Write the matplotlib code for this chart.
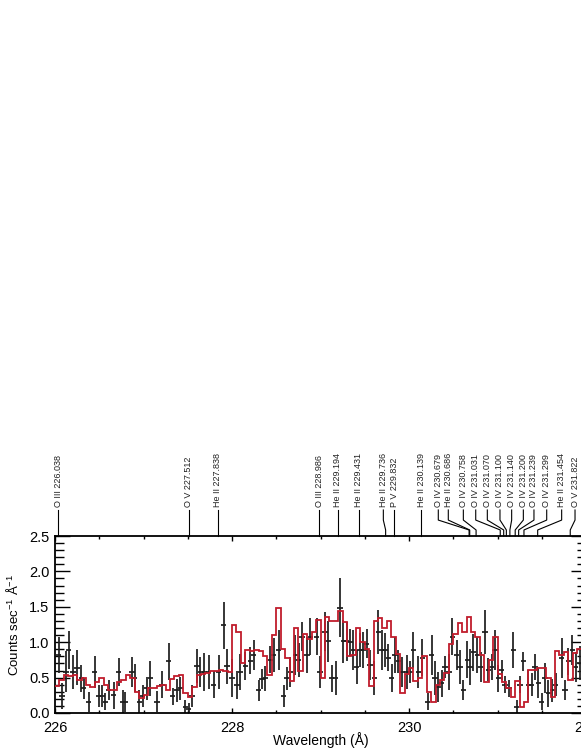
import numpy as np
import matplotlib
matplotlib.use("Agg")
import matplotlib.pyplot as plt
from matplotlib.transforms import blended_transform_factory
from matplotlib.ticker import MultipleLocator, FormatStrFormatter

plt.rcParams['font.family'] = ['Liberation Sans', 'DejaVu Sans']
plt.rcParams['mathtext.default'] = 'regular'

### observed spectrum: bin centre (A), counts/s/A, 1-sigma error
wave = [226.041, 226.079, 226.124, 226.154, 226.203, 226.249, 226.297, 226.324, 226.380, 226.448,
        226.493, 226.531, 226.569, 226.606, 226.663, 226.719, 226.765, 226.795, 226.870, 226.900,
        226.953, 226.991, 227.040, 227.077, 227.153, 227.209, 227.284, 227.330, 227.378, 227.416,
        227.473, 227.510, 227.548, 227.604, 227.642, 227.687, 227.736, 227.793, 227.849, 227.906,
        227.944, 228.000, 228.057, 228.094, 228.151, 228.207, 228.245, 228.301, 228.339, 228.377,
        228.433, 228.471, 228.527, 228.584, 228.621, 228.659, 228.716, 228.753, 228.791, 228.847,
        228.885,
        228.957, 228.994, 229.051, 229.089, 229.126, 229.172, 229.220, 229.258, 229.296, 229.333,
        229.371, 229.409, 229.446, 229.484, 229.522, 229.559, 229.608, 229.654, 229.691, 229.729,
        229.767, 229.804, 229.842, 229.880, 229.925, 229.974, 230.011, 230.049, 230.106, 230.151,
        230.211, 230.256, 230.294, 230.332, 230.369, 230.407, 230.452, 230.490, 230.539, 230.576,
        230.614, 230.659, 230.689, 230.727, 230.772, 230.810, 230.859, 230.897, 230.934, 230.972,
        231.010, 231.047, 231.085, 231.130, 231.179, 231.217, 231.255, 231.292, 231.349, 231.386,
        231.424, 231.462, 231.499, 231.537, 231.575, 231.620, 231.658, 231.725, 231.763, 231.801,
        231.846, 231.884, 231.932]

flux = [0.82, 0.24, 0.58, 0.89, 0.58, 0.64, 0.49, 0.35, 0.16, 0.58,
        0.24, 0.24, 0.16, 0.32, 0.25, 0.58, 0.16, 0.16, 0.58, 0.49,
        0.16, 0.24, 0.35, 0.49, 0.16, 0.40, 0.73, 0.24, 0.32, 0.35,
        0.09, 0.05, 0.24, 0.66, 0.58, 0.58, 0.58, 0.40, 0.58, 1.24,
        0.66, 0.49, 0.40, 0.58, 0.66, 0.74, 0.82, 0.32, 0.48, 0.49,
        0.75, 0.82, 0.89, 0.24, 0.49, 0.58, 0.82, 0.75, 1.08, 0.82,
        1.08,
        1.08, 0.58, 1.15, 1.01, 0.49, 0.49, 1.49, 1.01, 1.01, 1.00,
        0.89, 0.65, 0.89, 0.89, 0.98, 0.68, 0.49, 1.15, 0.89, 0.89,
        0.78, 0.49, 0.82, 0.73, 0.58, 0.58, 0.58, 0.89, 0.58, 0.78,
        0.16, 0.82, 0.49, 0.37, 0.42, 0.65, 0.58, 1.08, 0.82, 0.65,
        0.32, 0.75, 0.65, 0.86, 0.82, 0.65, 1.15, 0.61, 0.65, 0.89,
        0.49, 0.61, 0.40, 0.35, 0.89, 0.09, 0.40, 0.73, 0.40, 0.40,
        0.65, 0.42, 0.16, 0.49, 0.28, 0.32, 0.40, 0.78, 0.32, 0.73,
        0.89, 0.65, 0.70]

flux_err = [0.25, 0.19, 0.29, 0.27, 0.24, 0.25, 0.19, 0.15, 0.14, 0.22,
            0.16, 0.15, 0.12, 0.14, 0.19, 0.20, 0.16, 0.14, 0.21, 0.20,
            0.16, 0.15, 0.16, 0.25, 0.15, 0.19, 0.26, 0.12, 0.16, 0.16,
            0.09, 0.09, 0.16, 0.24, 0.21, 0.27, 0.24, 0.19, 0.24, 0.33,
            0.25, 0.27, 0.20, 0.25, 0.20, 0.19, 0.21, 0.15, 0.14, 0.18,
            0.19, 0.24, 0.28, 0.16, 0.16, 0.21, 0.28, 0.24, 0.20, 0.26,
            0.26,
            0.26, 0.22, 0.28, 0.29, 0.19, 0.24, 0.42, 0.31, 0.28, 0.19,
            0.28, 0.24, 0.24, 0.26, 0.21, 0.21, 0.24, 0.31, 0.28, 0.24,
            0.19, 0.20, 0.26, 0.16, 0.21, 0.24, 0.16, 0.26, 0.22, 0.26,
            0.12, 0.28, 0.24, 0.21, 0.19, 0.16, 0.25, 0.26, 0.21, 0.24,
            0.14, 0.26, 0.26, 0.26, 0.26, 0.21, 0.31, 0.16, 0.19, 0.28,
            0.19, 0.14, 0.12, 0.12, 0.26, 0.09, 0.12, 0.13, 0.21, 0.16,
            0.19, 0.21, 0.12, 0.21, 0.19, 0.16, 0.16, 0.28, 0.14, 0.19,
            0.21, 0.21, 0.24]

### model spectrum, 0.05 A bins starting at 226.0
model = [0.38, 0.47, 0.54, 0.52, 0.54, 0.47, 0.49, 0.40, 0.37, 0.44,
         0.50, 0.40, 0.32, 0.32, 0.44, 0.47, 0.54, 0.49, 0.30, 0.21,
         0.26, 0.36, 0.35, 0.38, 0.40, 0.33, 0.48, 0.52, 0.54, 0.28,
         0.22, 0.37, 0.54, 0.55, 0.57, 0.59, 0.59, 0.61, 0.59, 0.58,
         1.25, 1.15, 0.70, 0.89, 0.88, 0.89, 0.88, 0.80, 0.54, 1.10,
         1.48, 0.90, 0.78, 0.45, 1.20, 0.60, 1.12, 1.05, 1.15, 1.31,
         0.50, 1.35, 1.30, 1.30, 1.44, 1.28, 0.80, 0.82, 1.20, 1.00,
         0.90, 0.38, 1.30, 1.34, 1.20, 1.30, 1.08, 0.84, 0.28, 0.55,
         0.64, 0.45, 0.50, 0.80, 0.30, 0.16, 0.40, 0.46, 0.56, 0.98,
         1.12, 1.27, 1.15, 1.36, 1.15, 1.08, 0.82, 0.44, 0.75, 1.08,
         0.55, 0.44, 0.35, 0.23, 0.45, 0.09, 0.16, 0.61, 0.61, 0.63,
         0.63, 0.50, 0.23, 0.87, 0.82, 0.86, 0.47, 0.85, 0.91, 0.91]
model_edges = 226.0 + 0.05 * np.arange(len(model) + 1)

### line identifications
line_wave = [226.038, 227.512, 227.838, 228.986, 229.194, 229.431, 229.736, 229.832, 230.139,
             230.679, 230.686, 230.758, 231.031, 231.070, 231.100, 231.140, 231.200, 231.239,
             231.299, 231.454, 231.822]
line_ion = ["O III", "O V", "He II", "O III", "He II", "He II", "He II", "P V", "He II",
            "O IV", "He II", "O IV", "O IV", "O IV", "O IV", "O IV", "O IV", "O IV",
            "O IV", "He II", "O V"]
# where the label sits (spread out where lines are crowded)
label_pos = [226.038, 227.512, 227.838, 228.986, 229.194, 229.431, 229.710, 229.832, 230.139,
             230.331, 230.444, 230.614, 230.754, 230.885, 231.028, 231.160, 231.292, 231.412,
             231.556, 231.725, 231.876]

#######################################
###     Plot
#######################################
fig = plt.figure(figsize=(5.81, 7.52), dpi=100)
ax = fig.add_axes([55 / 581, 39 / 752, 531 / 581, 177 / 752])

ax.stairs(model, model_edges, baseline=None, color='#c01c2c', lw=1.3, zorder=3)
ax.errorbar(wave, flux, yerr=flux_err, xerr=0.03, fmt='none', ecolor='#1e1e1e',
            elinewidth=1.25, capsize=0, zorder=2)

ax.set_xlim(226, 232)
ax.set_ylim(0, 2.5)
ax.xaxis.set_major_locator(MultipleLocator(2))
ax.xaxis.set_minor_locator(MultipleLocator(0.5))
ax.yaxis.set_major_locator(MultipleLocator(0.5))
ax.yaxis.set_minor_locator(MultipleLocator(0.1))
ax.yaxis.set_major_formatter(FormatStrFormatter('%.1f'))
ax.tick_params(axis='both', which='both', direction='in', top=True, right=True,
               labelsize=10.5, width=1.0)
ax.tick_params(axis='y', which='major', length=11, pad=4)
ax.tick_params(axis='y', which='minor', length=6.5)
ax.tick_params(axis='x', which='major', length=3.5, pad=6)
ax.tick_params(axis='x', which='minor', length=2)
for sp in ax.spines.values():
    sp.set_linewidth(1.3)

ax.set_xlabel('Wavelength (Å)', fontsize=10)
ax.xaxis.set_label_coords(0.5, -0.11)
ax.set_ylabel('Counts sec$^{-1}$ Å$^{-1}$', fontsize=9.5)
ax.yaxis.set_label_coords(-0.064, 0.5)

trans = blended_transform_factory(ax.transData, ax.transAxes)
for lw_, ion, lp in zip(line_wave, line_ion, label_pos):
    ax.plot([lp, lp, lw_, lw_], [1.147, 1.09, 1.034, 1.0], transform=trans,
            color='black', lw=0.8, clip_on=False)
    ax.text(lp, 1.165, f"{ion} {lw_:.3f}", rotation=90, ha='center', va='bottom',
            fontsize=6.5, color='#222222', transform=trans)

fig.savefig('out.png', dpi=100)
